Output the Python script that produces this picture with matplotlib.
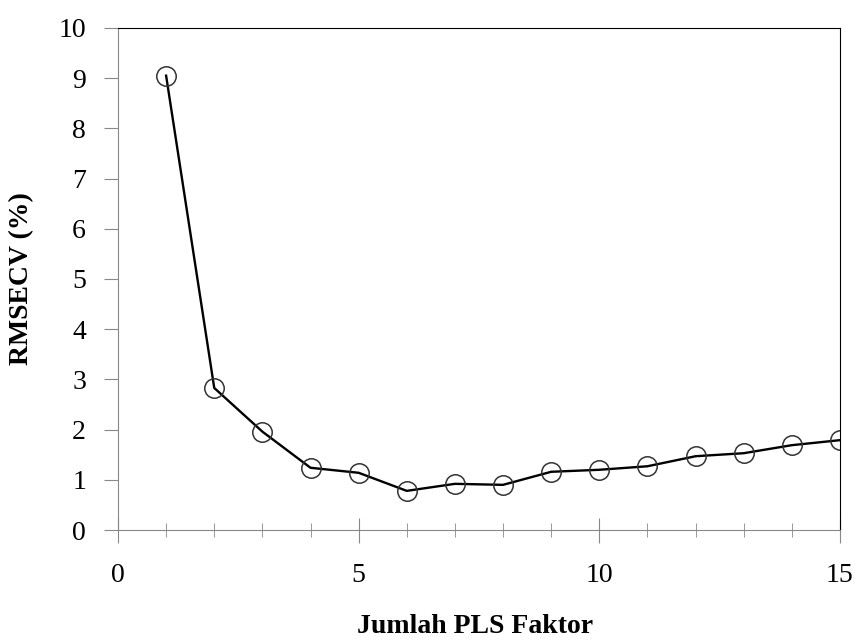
import matplotlib.pyplot as plt
from matplotlib.ticker import MultipleLocator

# PLS factors vs RMSECV
faktor = list(range(1, 16))
rmsecv = [9.05, 2.83, 1.96, 1.24, 1.14, 0.78, 0.92, 0.90, 1.16, 1.20, 1.27, 1.47, 1.53, 1.69, 1.79]

plt.rcParams['font.family'] = ['Liberation Serif', 'DejaVu Serif']

fig = plt.figure(figsize=(8.58, 6.43), dpi=100)
ax = fig.add_axes([0.1375, 0.1757, 0.8415, 0.7808])

ax.plot(faktor, rmsecv, color='black', linewidth=1.7, marker='o', markersize=14,
        markerfacecolor='none', markeredgecolor='#333333', markeredgewidth=1.1)

ax.set_xlim(0, 15)
ax.set_ylim(0, 10)
ax.xaxis.set_major_locator(MultipleLocator(5))
ax.xaxis.set_minor_locator(MultipleLocator(1))
ax.yaxis.set_major_locator(MultipleLocator(1))

for side in ['left', 'bottom']:
    ax.spines[side].set_color('#888888')
for side in ['top', 'right']:
    ax.spines[side].set_color('black')

ax.tick_params(axis='y', which='major', direction='out', length=10, color='#888888',
               labelsize=20, pad=13)
ax.tick_params(axis='x', which='major', direction='inout', length=18, color='#888888',
               labelsize=20, pad=15)
ax.tick_params(axis='x', which='minor', direction='inout', length=10, color='#888888')

ax.set_xlabel('Jumlah PLS Faktor', fontsize=20, fontweight='bold', va='top')
ax.xaxis.set_label_coords(0.494, -0.168)
ax.set_ylabel('RMSECV (%)', fontsize=20, fontweight='bold', va='center')
ax.yaxis.set_label_coords(-0.133, 0.5)

fig.savefig('out.png', dpi=100)
